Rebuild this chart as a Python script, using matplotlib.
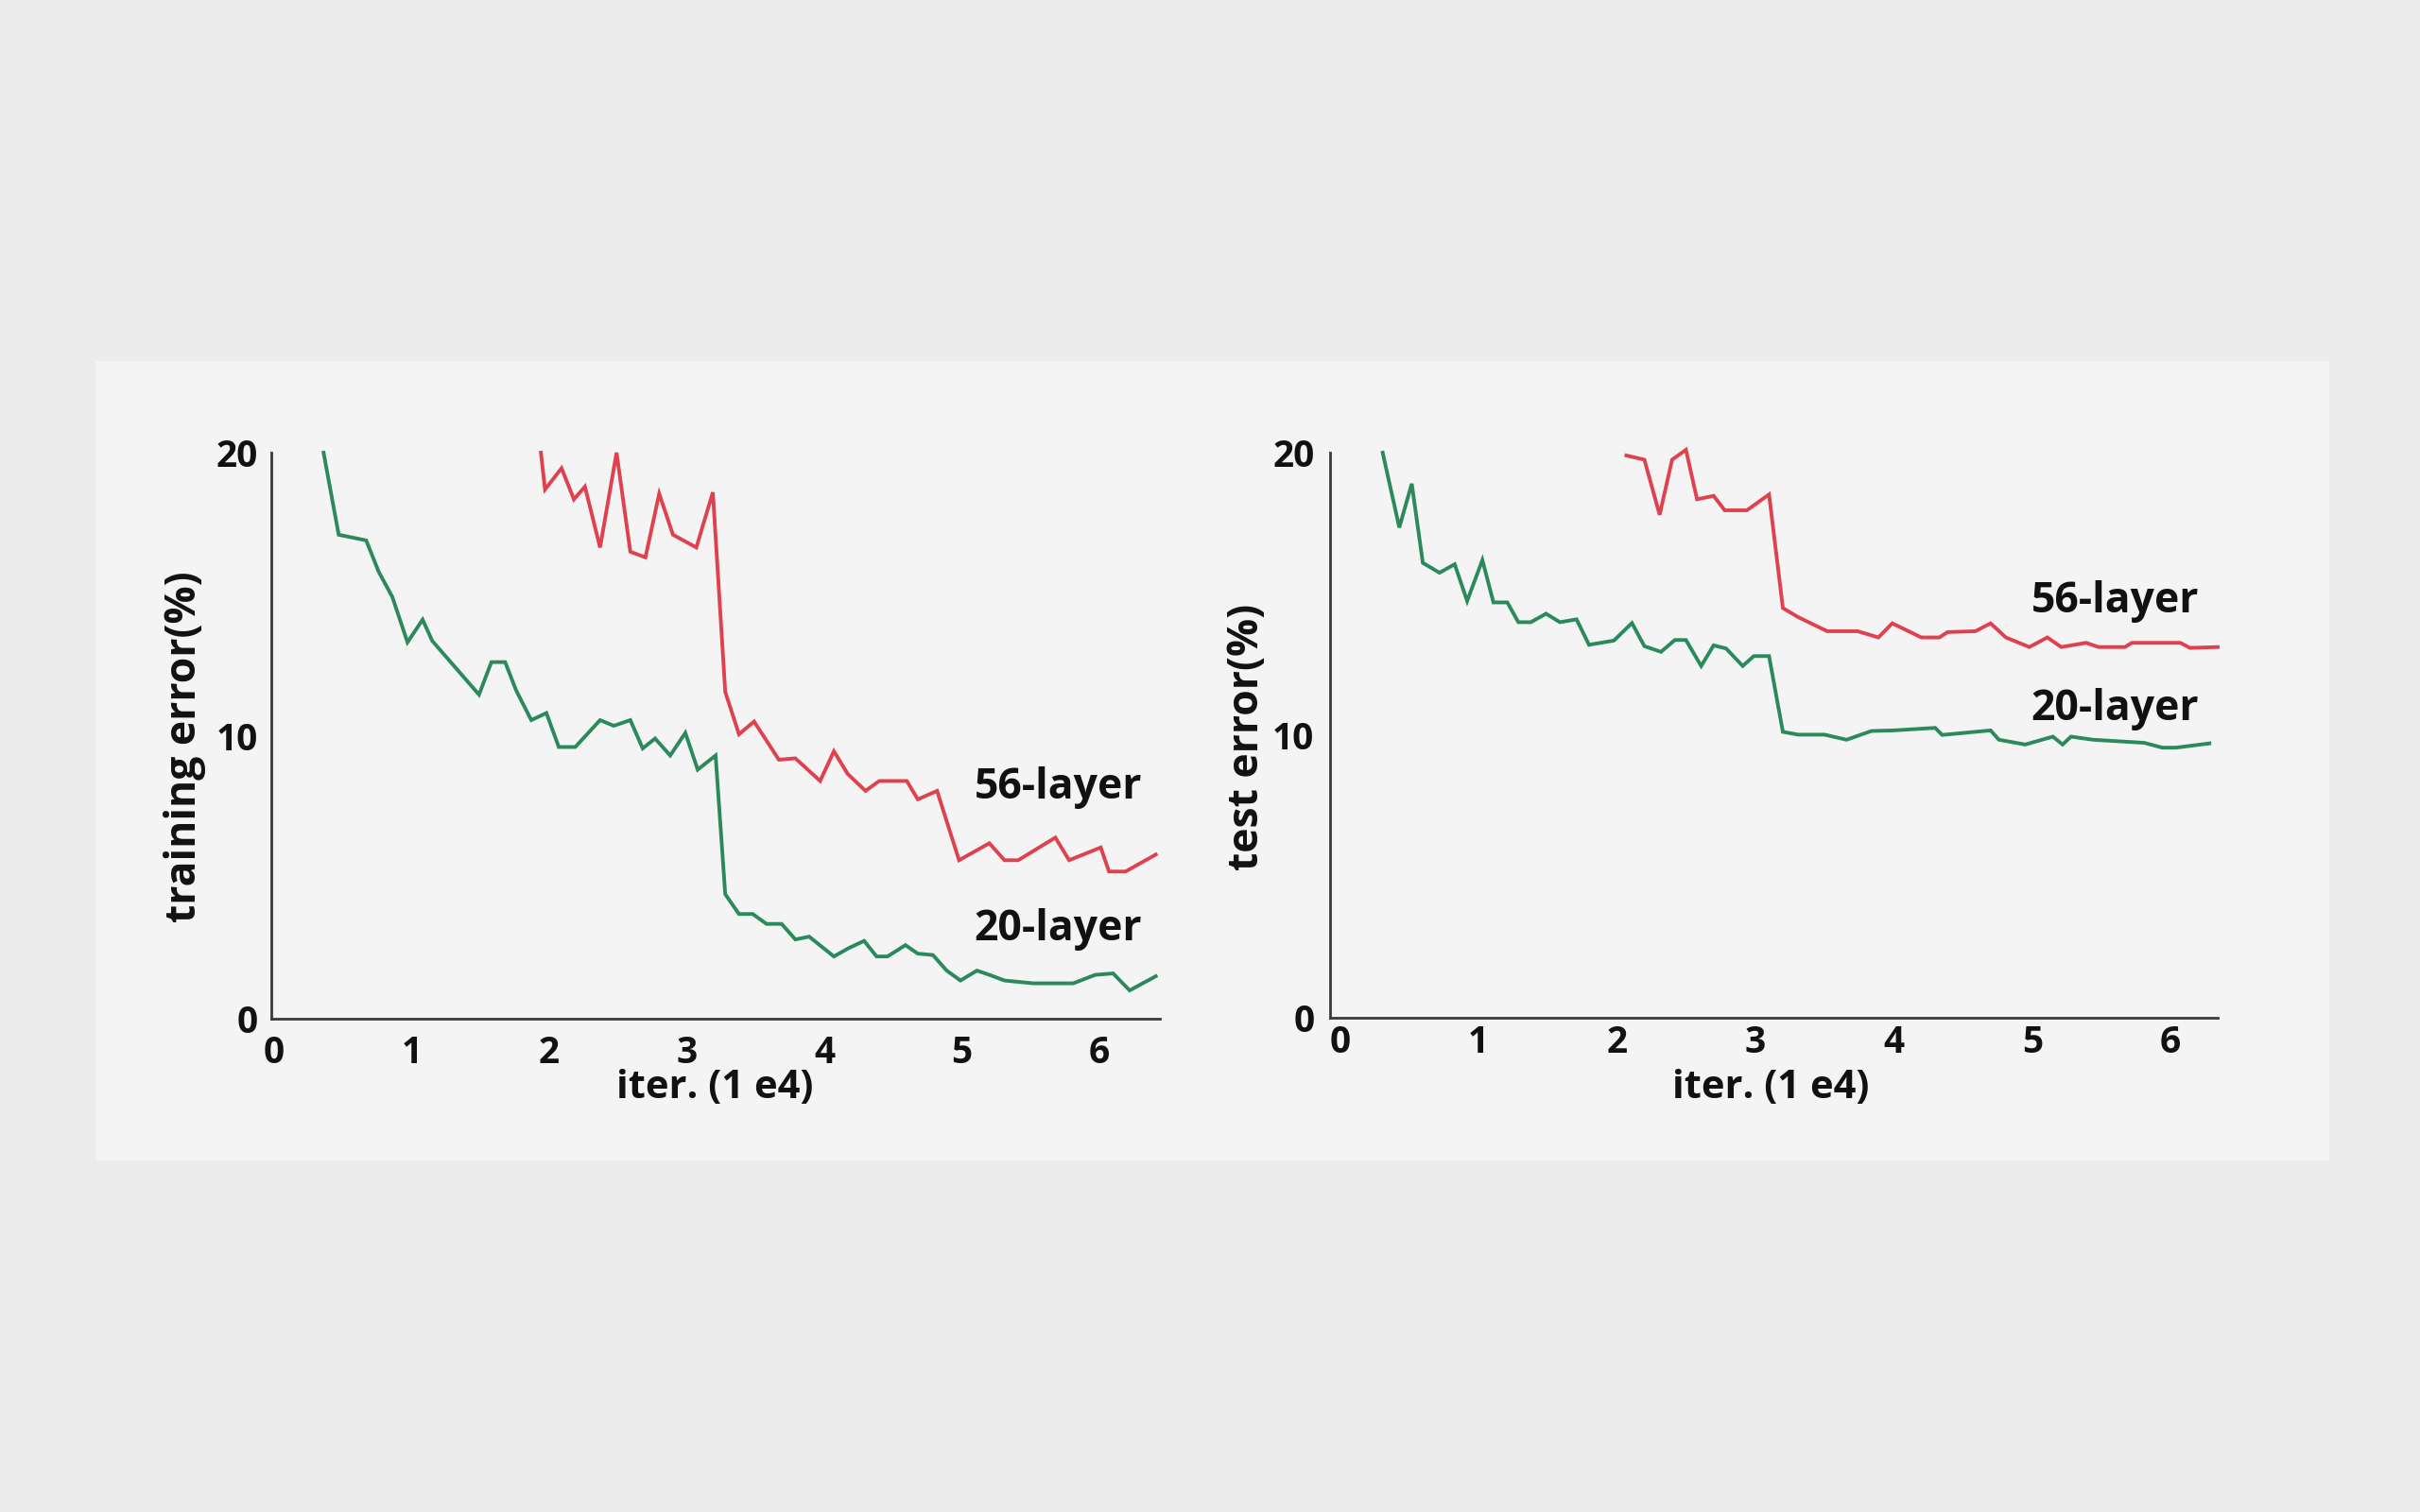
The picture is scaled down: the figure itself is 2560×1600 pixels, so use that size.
import matplotlib
matplotlib.use("Agg")
import matplotlib.pyplot as plt
from matplotlib.patches import Rectangle

# ---------------- data ----------------
train_20_x = [0.36, 0.47, 0.67, 0.76, 0.86, 0.97, 1.08, 1.15, 1.49, 1.58, 1.68, 1.76, 1.87, 1.98,
              2.07, 2.19, 2.37, 2.47, 2.59, 2.68, 2.77, 2.88, 2.99, 3.08, 3.21, 3.28, 3.38, 3.48,
              3.58, 3.69, 3.79, 3.89, 4.07, 4.18, 4.29, 4.38, 4.46, 4.59, 4.68, 4.79, 4.89, 4.99,
              5.11, 5.20, 5.31, 5.52, 5.81, 5.97, 6.10, 6.22, 6.41]
train_20_y = [20.0, 17.1, 16.9, 15.8, 14.9, 13.3, 14.1, 13.35, 11.45, 12.6, 12.6, 11.6, 10.55, 10.8,
              9.6, 9.6, 10.55, 10.35, 10.55, 9.55, 9.9, 9.3, 10.1, 8.8, 9.3, 4.4, 3.7, 3.7,
              3.35, 3.35, 2.8, 2.9, 2.2, 2.5, 2.75, 2.2, 2.2, 2.6, 2.3, 2.25, 1.7, 1.35,
              1.7, 1.55, 1.35, 1.25, 1.25, 1.55, 1.6, 1.0, 1.5]

train_56_x = [1.94, 1.97, 2.09, 2.18, 2.26, 2.37, 2.49, 2.59, 2.70, 2.80, 2.90, 3.07, 3.19, 3.28,
              3.38, 3.49, 3.67, 3.79, 3.97, 4.07, 4.17, 4.30, 4.40, 4.60, 4.68, 4.82, 4.98, 5.20,
              5.31, 5.41, 5.68, 5.78, 6.01, 6.07, 6.19, 6.41]
train_56_y = [20.0, 18.7, 19.45, 18.35, 18.8, 16.65, 20.0, 16.5, 16.3, 18.55, 17.1, 16.65, 18.6, 11.55,
              10.05, 10.5, 9.15, 9.2, 8.4, 9.45, 8.65, 8.05, 8.4, 8.4, 7.75, 8.05, 5.6, 6.2,
              5.6, 5.6, 6.4, 5.6, 6.05, 5.2, 5.2, 5.8]

test_20_x = [0.31, 0.43, 0.52, 0.60, 0.72, 0.83, 0.92, 1.03, 1.11, 1.21, 1.29, 1.38, 1.49, 1.59,
             1.71, 1.80, 1.98, 2.11, 2.20, 2.32, 2.42, 2.50, 2.61, 2.70, 2.79, 2.91, 2.99, 3.10,
             3.20, 3.31, 3.50, 3.66, 3.84, 4.00, 4.30, 4.35, 4.70, 4.76, 4.95, 5.15, 5.22, 5.28,
             5.44, 5.81, 5.94, 6.04, 6.28]
test_20_y = [20.0, 17.35, 18.9, 16.1, 15.75, 16.05, 14.75, 16.2, 14.7, 14.7, 14.0, 14.0, 14.3, 14.0,
             14.1, 13.2, 13.35, 13.97, 13.15, 12.95, 13.37, 13.37, 12.45, 13.18, 13.07, 12.45, 12.8, 12.8,
             10.12, 10.02, 10.02, 9.84, 10.15, 10.17, 10.26, 10.01, 10.17, 9.84, 9.67, 9.95, 9.67, 9.95,
             9.84, 9.73, 9.56, 9.56, 9.71]

test_56_x = [2.07, 2.20, 2.31, 2.40, 2.50, 2.58, 2.70, 2.78, 2.94, 3.10, 3.20, 3.31, 3.52, 3.74,
             3.89, 3.99, 4.20, 4.33, 4.39, 4.59, 4.70, 4.81, 4.98, 5.11, 5.21, 5.39, 5.48, 5.67,
             5.72, 6.07, 6.14, 6.34]
test_56_y = [19.9, 19.75, 17.8, 19.75, 20.1, 18.35, 18.47, 17.96, 17.96, 18.52, 14.5, 14.18, 13.68, 13.68,
             13.46, 13.96, 13.46, 13.46, 13.65, 13.68, 13.96, 13.46, 13.12, 13.46, 13.12, 13.27, 13.12, 13.12,
             13.27, 13.27, 13.09, 13.12]

x_ticks = [0, 1, 2, 3, 4, 5, 6]
y_ticks = [0, 10, 20]
series_names = ["56-layer", "20-layer"]
y_labels = ["training error(%)", "test error(%)"]
x_label = "iter. (1 e4)"

# ---------------- style ----------------
RED = "#e0414e"
GREEN = "#2b8a5c"
FONT = ["Open Sans", "DejaVu Sans"]
plt.rcParams["font.family"] = FONT
W = "bold"

fig = plt.figure(figsize=(25.6, 16), dpi=100)
fig.patch.set_facecolor("#ececec")
fig.patches.append(Rectangle((101 / 2560, 1 - 1228 / 1600), (2464 - 101) / 2560, (1228 - 382) / 1600,
                             transform=fig.transFigure, facecolor="#f4f4f4", edgecolor="none", zorder=-10))

ax1 = fig.add_axes([287 / 2560, 522 / 1600, 940 / 2560, 599 / 1600])
ax2 = fig.add_axes([1407 / 2560, 523 / 1600, 939 / 2560, 598 / 1600])
ax1.set_zorder(2)
ax2.set_zorder(2)

panels = [
    (ax1, train_56_x, train_56_y, train_20_x, train_20_y, (-0.02, 6.44), (5.70, 8.15), (5.70, 3.14), 12, 10),
    (ax2, test_56_x, test_56_y, test_20_x, test_20_y, (-0.07, 6.34), (5.60, 14.72), (5.60, 10.92), 5, 12),
]

for ax, rx, ry, gx, gy, xlim, p56, p20, xpad, ypad in panels:
    ax.set_facecolor("none")
    ax.plot(rx, ry, color=RED, lw=2.8, clip_on=False, solid_joinstyle="miter")
    ax.plot(gx, gy, color=GREEN, lw=2.8, clip_on=False, solid_joinstyle="miter")
    ax.set_xlim(*xlim)
    ax.set_ylim(0, 20)
    ax.set_xticks(x_ticks)
    ax.set_yticks(y_ticks)
    for s in ["top", "right"]:
        ax.spines[s].set_visible(False)
    for s in ["left", "bottom"]:
        ax.spines[s].set_color("#3a3a3a")
        ax.spines[s].set_linewidth(2.0)
    ax.tick_params(axis="x", length=0, pad=xpad, labelsize=28, labelcolor="#111111")
    ax.tick_params(axis="y", length=0, pad=ypad, labelsize=28, labelcolor="#111111")
    for lab in ax.get_xticklabels() + ax.get_yticklabels():
        lab.set_fontweight(W)
    ax.text(p56[0], p56[1], series_names[0], ha="center", va="center", fontsize=32,
            fontweight=W, color="#111111")
    ax.text(p20[0], p20[1], series_names[1], ha="center", va="center", fontsize=32,
            fontweight=W, color="#111111")

fig.text(196 / 2560, 1 - 790 / 1600, y_labels[0], rotation=90, ha="center", va="center",
         fontsize=32, fontweight=W, color="#111111")
fig.text(1319 / 2560, 1 - 780 / 1600, y_labels[1], rotation=90, ha="center", va="center",
         fontsize=32, fontweight=W, color="#111111")
fig.text(756 / 2560, 1 - 1152 / 1600, x_label, ha="center", va="center",
         fontsize=30, fontweight=W, color="#111111")
fig.text(1873 / 2560, 1 - 1152 / 1600, x_label, ha="center", va="center",
         fontsize=30, fontweight=W, color="#111111")

fig.savefig("out.png", dpi=100, facecolor=fig.get_facecolor())
